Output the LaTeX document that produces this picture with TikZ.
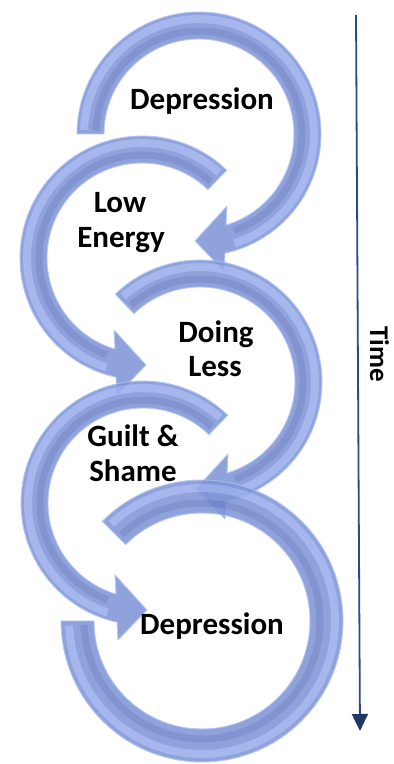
\documentclass[tikz,border=0pt]{standalone}
\usepackage{fontspec}
\setmainfont{Carlito}
\usetikzlibrary{arrows.meta}
\definecolor{bandbase}{HTML}{7F95D7}
\definecolor{bandhl}{HTML}{98ADEB}
\definecolor{bandsh}{HTML}{7085C8}
\definecolor{bandedge}{HTML}{AEBEF2}
\definecolor{timeline}{HTML}{2C4A86}
\definecolor{timehead}{HTML}{1F3864}
\newcommand{\ccwshape}[1]{(#1:122) arc[start angle=#1, end angle=257.7, radius=122] -- (-25,-137) -- (4,-107) -- (-28,-72) -- (253.5:95) arc[start angle=253.5, end angle=#1, radius=95] -- cycle}
\newcommand{\cwshape}[1]{(#1:122) arc[start angle=#1, end angle=-77.7, radius=122] -- (25,-137) -- (-4,-107) -- (28,-72) -- (-73.5:95) arc[start angle=-73.5, end angle=#1, radius=95] -- cycle}
\tikzset{
  bandfill/.style={fill=bandbase},
  bandhi/.style={draw=bandhl, line width=8pt},
  bandlo/.style={draw=bandsh, line width=7pt},
  bandrim/.style={draw=bandedge, line width=0.9pt, line join=round},
  arrowgrp/.style={transparency group, opacity=0.88},
  lbl/.style={font=\fontsize{31}{34}\selectfont\bfseries, inner sep=0pt, anchor=base},
  timelbl/.style={font=\fontsize{27}{30}\selectfont\bfseries, inner sep=0pt, anchor=base, rotate=-90},
}
\begin{document}
\begin{tikzpicture}[x=1pt,y=1pt]
\useasboundingbox (0,0) rectangle (394,764);
% arrow 1
\begin{scope}[shift={(199,630)}, arrowgrp]
  \fill[bandfill] \cwshape{180};
  \draw[bandhi] (178:115) arc[start angle=178, end angle=-72, radius=115];
  \draw[bandlo] (178:103) arc[start angle=178, end angle=-70, radius=103];
  \draw[bandrim] \cwshape{180};
\end{scope}
% arrow 2
\begin{scope}[shift={(142,506)}, arrowgrp]
  \fill[bandfill] \ccwshape{46};
  \draw[bandhi] (48:115) arc[start angle=48, end angle=252, radius=115];
  \draw[bandlo] (48:103) arc[start angle=48, end angle=250, radius=103];
  \draw[bandrim] \ccwshape{46};
\end{scope}
% arrow 3
\begin{scope}[shift={(200,382)}, arrowgrp]
  \fill[bandfill] \cwshape{134};
  \draw[bandhi] (132:115) arc[start angle=132, end angle=-72, radius=115];
  \draw[bandlo] (132:103) arc[start angle=132, end angle=-70, radius=103];
  \draw[bandrim] \cwshape{134};
\end{scope}
% arrow 4
\begin{scope}[shift={(143,261)}, arrowgrp]
  \fill[bandfill] \ccwshape{46};
  \draw[bandhi] (48:115) arc[start angle=48, end angle=252, radius=115];
  \draw[bandlo] (48:103) arc[start angle=48, end angle=250, radius=103];
  \draw[bandrim] \ccwshape{46};
\end{scope}
% arrow 5
\begin{scope}[shift={(202,143)}, arrowgrp]
  \fill[bandfill] (135:141) arc[start angle=135, end angle=-180, radius=141] -- (180:108) arc[start angle=-180, end angle=135, radius=108] -- cycle;
  \draw[bandhi] (133:133) arc[start angle=133, end angle=-178, radius=133];
  \draw[bandlo] (133:118) arc[start angle=133, end angle=-178, radius=118];
  \draw[bandrim] (135:141) arc[start angle=135, end angle=-180, radius=141] -- (180:108) arc[start angle=-180, end angle=135, radius=108] -- cycle;
\end{scope}
% labels
\node[lbl] (dep1) at (202,654) {Depression};
\node[lbl] (low1) at (120,551) {Low};
\node[lbl] (low2) at (121,516) {Energy};
\node[lbl] (doing1) at (216,421) {Doing};
\node[lbl] (doing2) at (215,387) {Less};
\node[lbl] (guilt1) at (133,317) {Guilt \&};
\node[lbl] (guilt2) at (133,282) {Shame};
\node[lbl] (dep2) at (212,129) {Depression};
% time axis
\coordinate (tstart) at (356,749);
\coordinate (tend) at (360,33);
\draw[timeline, line width=1.8pt, -{Triangle[width=16pt,length=17pt,color=timehead]}] (tstart) -- (tend);
\node[timelbl] (time) at (370,410) {Time};
\end{tikzpicture}
\end{document}
